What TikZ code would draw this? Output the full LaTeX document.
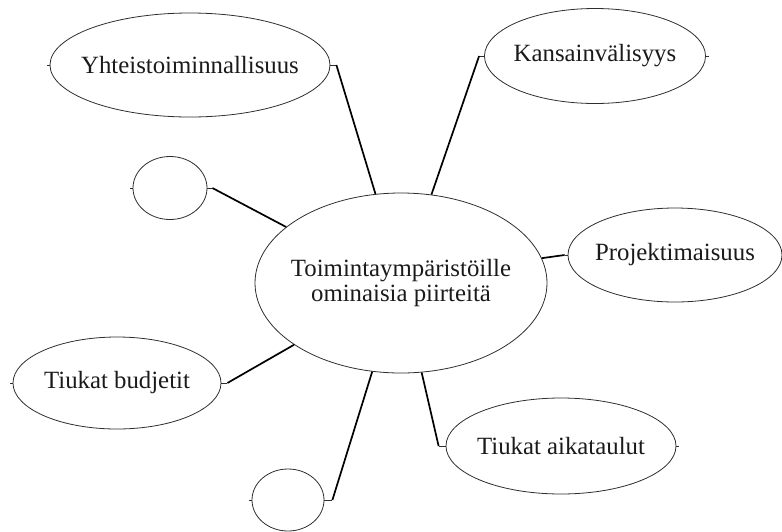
\documentclass[tikz,border=0pt]{standalone}
\usepackage{fontspec}
\setmainfont{Liberation Serif}
\usetikzlibrary{shapes.geometric}
\definecolor{ink}{HTML}{2E2E2E}
\definecolor{txt}{HTML}{1A1A1A}
\begin{document}
\begin{tikzpicture}[x=1pt,y=-1pt,
  bubble/.style={ellipse, draw=ink, line width=0.8pt, inner sep=0pt,
    text=txt, font=\fontsize{24.8}{23}\selectfont},
  link/.style={draw=black, line width=1.7pt},
  stub/.style={draw=ink, line width=0.8pt}]
\useasboundingbox (0,0) rectangle (782,531);

% central topic
\node[bubble, minimum width=292pt, minimum height=180pt] (c) at (401,283)
  {\makebox[0pt]{\shortstack{Toimintaympäristöille\\ominaisia piirteitä}}};

% surrounding features
\node[bubble, minimum width=280pt, minimum height=104pt] (yh) at (190,65)
  {\makebox[0pt]{Yhteistoiminnallisuus}};
\node[bubble, minimum width=74pt, minimum height=63pt] (cu) at (170,188) {};
\node[bubble, minimum width=221pt, minimum height=95pt] (ka) at (595,56)
  {\makebox[0pt]{Kansainvälisyys}};
\node[bubble, minimum width=214pt, minimum height=94pt] (pr) at (675,255)
  {\makebox[0pt]{Projektimaisuus}};
\node[bubble, minimum width=208pt, minimum height=92pt] (bu) at (117,383)
  {\makebox[0pt]{Tiukat budjetit}};
\node[bubble, minimum width=72pt, minimum height=62pt] (cb) at (288,500) {};
\node[bubble, minimum width=230pt, minimum height=96pt] (ai) at (561,446)
  {\makebox[0pt]{Tiukat aikataulut}};

% elbow connectors: short stub at the bubble, long leg to the centre
\draw[stub] (yh.east) -- ++(6,0) coordinate (yhk);
\draw[link] (yhk) -- (c.106);
\draw[stub] (cu.east) -- ++(5,0) coordinate (cuk);
\draw[link] (cuk) -- (c.154);
\draw[stub] (ka.west) -- ++(-5,0) coordinate (kak);
\draw[link] (kak) -- (c.71);
\draw[stub] (pr.west) -- ++(-3,0) coordinate (prk);
\draw[link] (prk) -- (c.10);
\draw[stub] (bu.east) -- ++(6,0) coordinate (buk);
\draw[link] (buk) -- (c.210);
\draw[stub] (cb.east) -- ++(8,0) coordinate (cbk);
\draw[link] (cbk) -- (c.252);
\draw[stub] (ai.west) -- ++(-7,0) coordinate (aik);
\draw[link] (aik) -- (c.283);

% loose ticks on the outer sides
\draw[stub] (yh.west) -- ++(-3,0);
\draw[stub] (cu.west) -- ++(-3,0);
\draw[stub] (ka.east) -- ++(3,0);
\draw[stub] (bu.west) -- ++(-3,0);
\draw[stub] (cb.west) -- ++(-3,0);
\draw[stub] (ai.east) -- ++(3,0);
\end{tikzpicture}
\end{document}
